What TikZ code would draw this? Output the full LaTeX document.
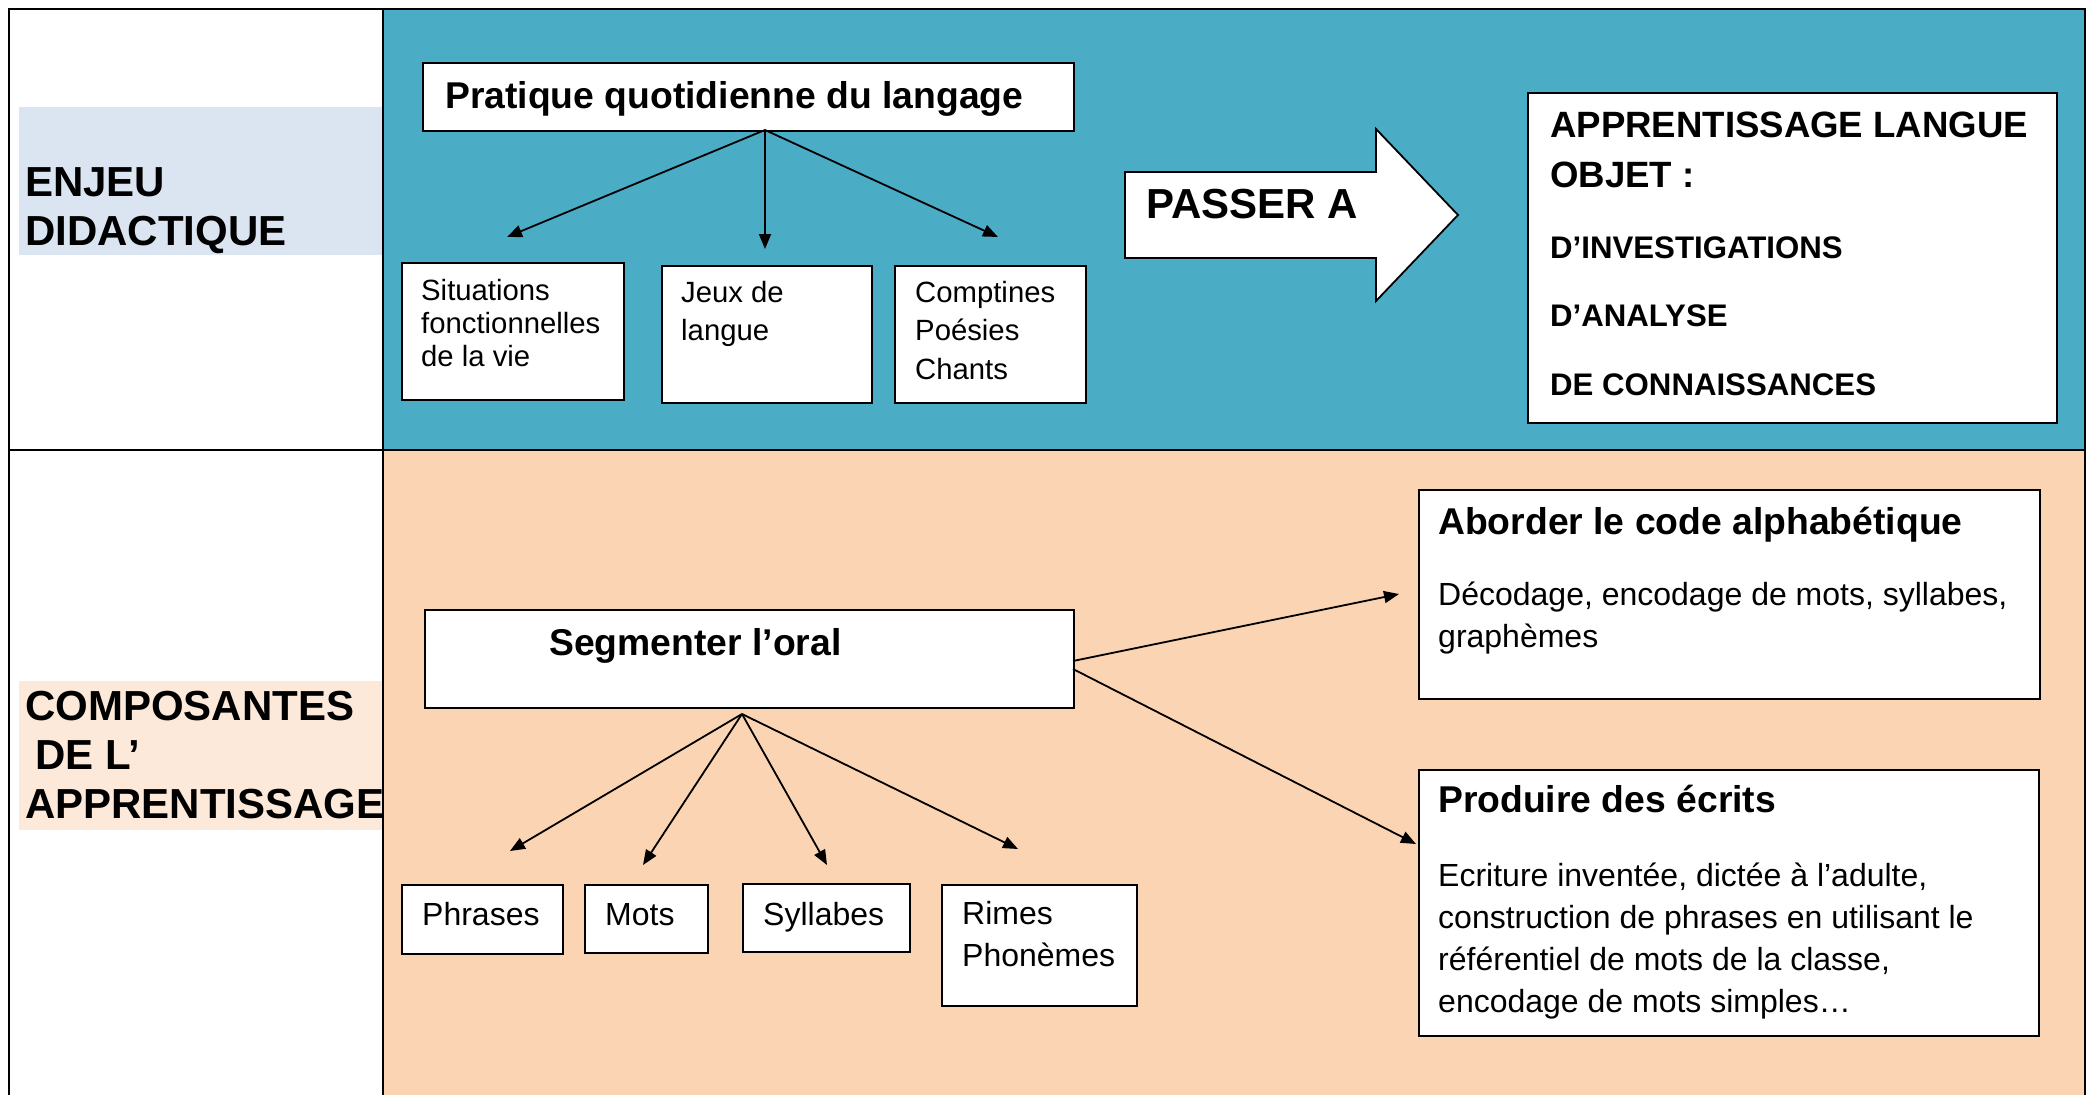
\documentclass[tikz,border=0pt]{standalone}
\usepackage{fontspec}
\setmainfont{Liberation Sans}
\usetikzlibrary{arrows.meta}
\definecolor{enjeufond}{HTML}{4BACC6}
\definecolor{compofond}{HTML}{FBD4B4}
\definecolor{enjeutitre}{HTML}{DBE5F1}
\definecolor{compotitre}{HTML}{FDE9D9}
\tikzset{
	cadre/.style={draw, line width=2pt, fill=white, anchor=north west, inner sep=0pt},
	texte/.style={anchor=base west, align=left, inner sep=0pt},
	gros/.style={font=\fontsize{42}{49}\selectfont\bfseries},
	titre/.style={font=\fontsize{37.3}{44}\selectfont\bfseries},
	petit/.style={font=\fontsize{29.3}{38.5}\selectfont},
	corps/.style={font=\fontsize{32}{42}\selectfont},
	fleche/.style={line width=1.8pt, -{Triangle[length=15pt,width=12pt]}}
}
\begin{document}
\begin{tikzpicture}[x=1pt, y=-1pt]
			\useasboundingbox[fill=white] (0,0) rectangle (2089,1095);
			\fill[enjeutitre] (19,107) rectangle (383,255);
			\fill[compotitre] (19,681) rectangle (383,830);
			\node[texte, gros] (enjeu) at (25,245) {ENJEU\\DIDACTIQUE};
			\node[texte, gros] (compo) at (25,818) {COMPOSANTES\\\hspace*{10pt}DE L’\\APPRENTISSAGE};
			\fill[enjeufond] (383,9) rectangle (2085,450);
			\fill[compofond] (383,450) rectangle (2085,1095);
			\draw[line width=2.5pt] (9,1095) -- (9,9) -- (2085,9) -- (2085,1095);
			\draw[line width=2pt] (383,9) -- (383,1095);
			\draw[line width=2pt] (9,450) -- (2085,450);

			\node[cadre, minimum width=651pt, minimum height=68pt] (pratique) at (422,62) {};
			\node[texte, titre] at (445,108) {Pratique quotidienne du langage};
			\node[cadre, minimum width=222pt, minimum height=137pt] (situations) at (401,262) {};
			\node[texte, font=\fontsize{29.3}{33}\selectfont] at (421,366) {Situations\\fonctionnelles\\de la vie};
			\node[cadre, minimum width=210pt, minimum height=137pt] (jeux) at (661,265) {};
			\node[texte, petit] at (681,340.5) {Jeux de\\langue};
			\node[cadre, minimum width=191pt, minimum height=137pt] (comptines) at (894,265) {};
			\node[texte, petit] at (915,379) {Comptines\\Poésies\\Chants};
			\coordinate (pratPied) at (765,130);
			\coordinate (situationsHaut) at (507,237);
			\coordinate (jeuxHaut) at (765,249);
			\coordinate (comptinesHaut) at (998,237);
			\draw[fleche] (pratPied) -- (situationsHaut);
			\draw[fleche] (pratPied) -- (jeuxHaut);
			\draw[fleche] (pratPied) -- (comptinesHaut);

			\filldraw[fill=white, line width=1.8pt] (1125,172) -- (1376,172) -- (1376,129) -- (1458,215) -- (1376,301) -- (1376,258) -- (1125,258) -- cycle;
			\node[texte, gros] (passer) at (1146,218) {PASSER A};
			\node[cadre, minimum width=529pt, minimum height=330pt] (objet) at (1527,92) {};
			\node[texte, font=\fontsize{36.6}{50}\selectfont\bfseries] at (1550,187) {APPRENTISSAGE LANGUE\\OBJET :};
			\node[texte, font=\fontsize{31.2}{68.5}\selectfont\bfseries] at (1550,395) {D’INVESTIGATIONS\\D’ANALYSE\\DE CONNAISSANCES};

			\node[cadre, minimum width=649pt, minimum height=98pt] (segmenter) at (424,609) {};
			\node[texte, titre] at (549,655) {Segmenter l’oral};
			\node[cadre, minimum width=161pt, minimum height=69pt] (phrases) at (401,884) {};
			\node[texte, corps] at (422,925) {Phrases};
			\node[cadre, minimum width=123pt, minimum height=68pt] (mots) at (584,884) {};
			\node[texte, corps] at (605,925) {Mots};
			\node[cadre, minimum width=167pt, minimum height=68pt] (syllabes) at (742,883) {};
			\node[texte, corps] at (763,925) {Syllabes};
			\node[cadre, minimum width=195pt, minimum height=121pt] (rimes) at (941,884) {};
			\node[texte, corps] at (962,966) {Rimes\\Phonèmes};
			\coordinate (segPied) at (742,714);
			\coordinate (phrasesHaut) at (510,851);
			\coordinate (motsHaut) at (643,865);
			\coordinate (syllabesHaut) at (827,865);
			\coordinate (rimesHaut) at (1018,849);
			\draw[fleche] (segPied) -- (phrasesHaut);
			\draw[fleche] (segPied) -- (motsHaut);
			\draw[fleche] (segPied) -- (syllabesHaut);
			\draw[fleche] (segPied) -- (rimesHaut);

			\node[cadre, minimum width=621pt, minimum height=209pt] (aborder) at (1418,489) {};
			\node[texte, titre] at (1438,534) {Aborder le code alphabétique};
			\node[texte, corps] at (1438,647) {Décodage, encodage de mots, syllabes,\\graphèmes};
			\node[cadre, minimum width=620pt, minimum height=266pt] (produire) at (1418,769) {};
			\node[texte, titre] at (1438,812) {Produire des écrits};
			\node[texte, font=\fontsize{32}{41.7}\selectfont] at (1438,1012) {Ecriture inventée, dictée à l’adulte,\\construction de phrases en utilisant le\\référentiel de mots de la classe,\\encodage de mots simples…};
			\coordinate (segEst) at (1073,661);
			\coordinate (segEstBas) at (1073,669);
			\coordinate (aborderGauche) at (1399,594);
			\coordinate (produireGauche) at (1416,844);
			\draw[fleche] (segEst) -- (aborderGauche);
			\draw[fleche] (segEstBas) -- (produireGauche);
\end{tikzpicture}
\end{document}
